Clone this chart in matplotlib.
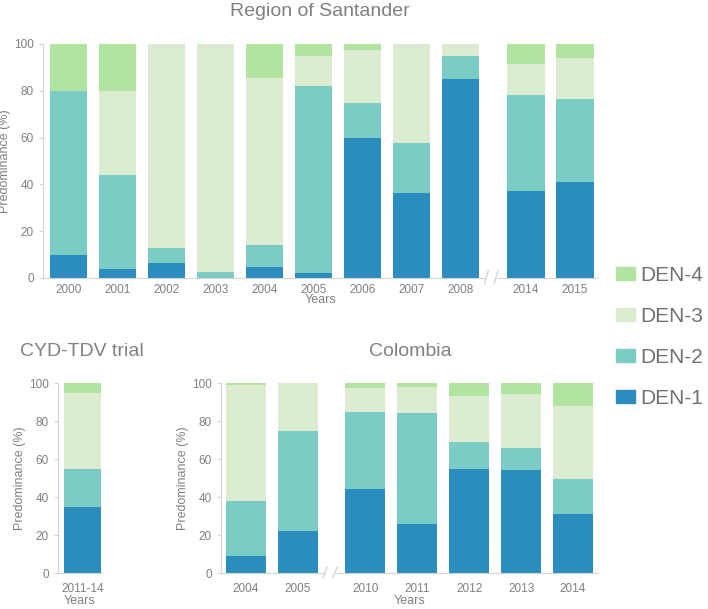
import matplotlib.pyplot as plt
from matplotlib.patches import Patch

plt.rcParams['font.family'] = ['Liberation Sans', 'DejaVu Sans']

# Region of Santander
sant_years = ['2000', '2001', '2002', '2003', '2004', '2005', '2006', '2007', '2008', '2014', '2015']
sant_den1 = [10, 4, 6.5, 0, 4.5, 2, 60, 36.5, 85, 37, 41]
sant_den2 = [70, 40, 6.5, 2.5, 9.5, 80, 15, 21, 10, 41, 35.5]
sant_den3 = [0, 36, 87, 97.5, 71.5, 13, 22.5, 42.5, 5, 13.5, 17.5]
sant_den4 = [20, 20, 0, 0, 14.5, 5, 2.5, 0, 0, 8.5, 6]

# CYD-TDV trial
trial_years = ['2011-14']
trial_den1 = [35]
trial_den2 = [19.5]
trial_den3 = [40.5]
trial_den4 = [5]

# Colombia
col_years = ['2004', '2005', '2010', '2011', '2012', '2013', '2014']
col_den1 = [9, 22, 44, 26, 55, 54, 31]
col_den2 = [29, 53, 41, 58, 14, 12, 18.5]
col_den3 = [61, 25, 12.5, 14, 24, 28, 38.5]
col_den4 = [1, 0, 2.5, 2, 7, 6, 12]

serotypes = ['DEN-1', 'DEN-2', 'DEN-3', 'DEN-4']
colors = ['#2b8cbe', '#7bccc4', '#dcecd1', '#b1e3a1']
grey = '#808080'
spine_c = '#d4d4d4'


def stacked(ax, x, series, width):
    bottom = [0] * len(x)
    for vals, c in zip(series, colors):
        ax.bar(x, vals, width, bottom=bottom, color=c, linewidth=0)
        bottom = [b + v for b, v in zip(bottom, vals)]


def style(ax, xpad):
    for s in ['top', 'right']:
        ax.spines[s].set_visible(False)
    for s in ['left', 'bottom']:
        ax.spines[s].set_color(spine_c)
    ax.tick_params(axis='y', colors=spine_c, labelcolor=grey, labelsize=8.5, length=3)
    ax.tick_params(axis='x', length=0, labelcolor=grey, labelsize=8.5, pad=xpad)
    ax.set_ylim(0, 100)
    ax.set_yticks([0, 20, 40, 60, 80, 100])
    ax.set_ylabel('Predominance (%)', color=grey, fontsize=9, labelpad=2)


def axis_break(ax, xc, dx):
    tr = ax.get_xaxis_transform()
    ax.plot([xc - dx / 2, xc + dx / 2], [0, 0], color='white', lw=2,
            transform=tr, clip_on=False, zorder=5)
    for xm in (xc - dx / 2, xc + dx / 2):
        ax.plot([xm - 0.04, xm + 0.04], [-0.025, 0.03], color=spine_c, lw=1,
                transform=tr, clip_on=False, zorder=6)


fig = plt.figure(figsize=(7.08, 6.09), dpi=100)

# top panel
ax1 = fig.add_axes([43 / 708, 1 - 278 / 609, 555 / 708, 234 / 609])
x1 = list(range(9)) + [9.33, 10.33]
stacked(ax1, x1, [sant_den1, sant_den2, sant_den3, sant_den4], 0.76)
style(ax1, 4)
ax1.set_xlim(-0.52, 10.8)
ax1.set_xticks(x1)
ax1.set_xticklabels(sant_years)
ax1.set_xlabel('Years', color=grey, fontsize=9, labelpad=-1)
axis_break(ax1, 8.62, 0.2)
fig.text(320 / 708, 1 - 11 / 609, 'Region of Santander', ha='center', va='center',
         color=grey, fontsize=14)

# trial panel
ax2 = fig.add_axes([58 / 708, 1 - 573 / 609, 44 / 708, 190 / 609])
stacked(ax2, [0], [trial_den1, trial_den2, trial_den3, trial_den4], 0.75)
style(ax2, 7)
ax2.set_xlim(-0.5, 0.39)
ax2.set_xticks([0])
ax2.set_xticklabels(trial_years)
ax2.set_xlabel('Years', color=grey, fontsize=9, labelpad=0)
fig.text(20 / 708, 1 - 352 / 609, 'CYD-TDV trial', ha='left', va='center',
         color=grey, fontsize=14)

# Colombia panel
ax3 = fig.add_axes([221 / 708, 1 - 573 / 609, 377 / 708, 190 / 609])
x3 = [0, 1, 2.3, 3.3, 4.3, 5.3, 6.3]
stacked(ax3, x3, [col_den1, col_den2, col_den3, col_den4], 0.77)
style(ax3, 7)
ax3.set_xlim(-0.48, 6.78)
ax3.set_xticks(x3)
ax3.set_xticklabels(col_years)
ax3.set_xlabel('Years', color=grey, fontsize=9, labelpad=0)
axis_break(ax3, 1.62, 0.19)
fig.text(410 / 708, 1 - 352 / 609, 'Colombia', ha='center', va='center',
         color=grey, fontsize=14)

# legend
handles = [Patch(color=c, label=l) for c, l in zip(colors, serotypes)][::-1]
fig.legend(handles=handles, loc='upper left', bbox_to_anchor=(616 / 708, 1 - 266 / 609),
           frameon=False, fontsize=15, labelcolor='#707070', handlelength=0.9,
           handleheight=0.55, handletextpad=0.25, labelspacing=1.05, borderpad=0,
           borderaxespad=0)

fig.savefig('out.png', dpi=100)
